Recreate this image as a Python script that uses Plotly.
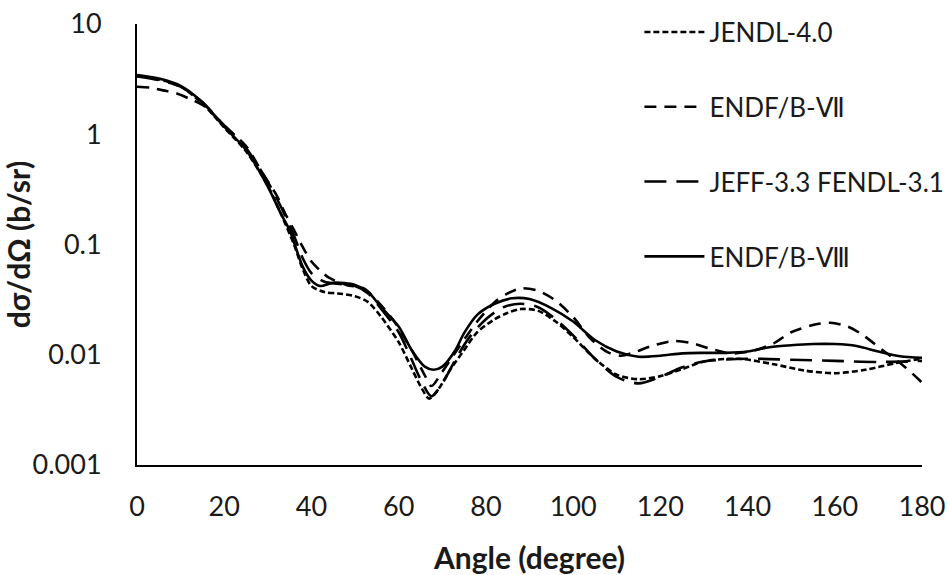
import plotly.graph_objects as go

# ---- data ----
names = ["JENDL-4.0", "ENDF/B-Ⅶ", "JEFF-3.3 FENDL-3.1", "ENDF/B-Ⅷ"]

jendl_ang = [0, 5, 10, 15, 20, 25, 30, 33, 36, 38, 40, 43, 46, 50, 53, 56, 60, 63, 65, 67, 69, 72, 75, 78, 82, 85, 88, 92, 96, 100, 105, 110, 115, 120, 125, 130, 138, 146, 153, 160, 167, 174, 180]
jendl_val = [3.4, 3.15, 2.7, 1.9, 1.15, 0.7, 0.34, 0.19, 0.1, 0.06, 0.042, 0.037, 0.036, 0.034, 0.03, 0.022, 0.013, 0.0075, 0.0052, 0.004, 0.0048, 0.0075, 0.011, 0.016, 0.021, 0.024, 0.026, 0.025, 0.02, 0.0145, 0.0092, 0.0066, 0.006, 0.0064, 0.0074, 0.0087, 0.0092, 0.0082, 0.0072, 0.0068, 0.0073, 0.0084, 0.0092]

endf7_ang = [0, 3, 6, 9, 12, 15, 18, 20, 25, 29, 32, 34, 36, 38, 40, 42, 44, 48, 52, 55, 59, 63, 66, 67.5, 70, 74, 78, 82, 85, 88, 92, 96, 100, 104, 108, 111, 114, 118, 123, 127, 131, 136, 141, 146, 150, 156, 159, 163, 166, 171, 176, 180]
endf7_val = [2.7, 2.65, 2.5, 2.35, 2.1, 1.85, 1.45, 1.2, 0.78, 0.43, 0.28, 0.19, 0.135, 0.095, 0.07, 0.058, 0.05, 0.043, 0.04, 0.031, 0.02, 0.011, 0.0065, 0.0052, 0.007, 0.012, 0.02, 0.03, 0.036, 0.040, 0.038, 0.031, 0.022, 0.014, 0.0105, 0.0098, 0.0105, 0.012, 0.0133, 0.0128, 0.0115, 0.0103, 0.0108, 0.0127, 0.016, 0.019, 0.0195, 0.018, 0.0155, 0.011, 0.0078, 0.0056]

jeff_ang = [0, 5, 10, 15, 20, 25, 30, 33, 36, 38, 40, 43, 46, 50, 53, 56, 60, 63, 65, 67.5, 70, 73, 76, 80, 84, 88, 92, 96, 100, 105, 110, 115, 120, 125, 130, 140, 150, 160, 170, 180]
jeff_val = [3.35, 3.1, 2.7, 1.95, 1.2, 0.75, 0.37, 0.22, 0.12, 0.075, 0.055, 0.046, 0.044, 0.042, 0.036, 0.026, 0.016, 0.009, 0.006, 0.0042, 0.0055, 0.009, 0.014, 0.021, 0.027, 0.029, 0.027, 0.021, 0.015, 0.0092, 0.0063, 0.0055, 0.0063, 0.0077, 0.0087, 0.0092, 0.009, 0.0088, 0.0086, 0.0088]

endf8_ang = [0, 5, 10, 15, 20, 25, 30, 33, 35, 38, 40, 42, 45, 50, 53, 56, 60, 63, 66, 68, 70, 73, 75, 78, 82, 86, 90, 95, 100, 105, 110, 115, 120, 125, 130, 135, 140, 145, 150, 155, 160, 165, 170, 175, 180]
endf8_val = [3.45, 3.2, 2.75, 1.95, 1.17, 0.72, 0.335, 0.19, 0.135, 0.063, 0.047, 0.042, 0.045, 0.043, 0.037, 0.027, 0.018, 0.011, 0.0078, 0.0073, 0.0078, 0.011, 0.0157, 0.023, 0.029, 0.0325, 0.032, 0.0265, 0.020, 0.0136, 0.0107, 0.0096, 0.0098, 0.0103, 0.0104, 0.0104, 0.0107, 0.0117, 0.0122, 0.0125, 0.0125, 0.012, 0.0107, 0.0097, 0.0094]

y_tickvals = [0.001, 0.01, 0.1, 1, 10]
y_ticktext = ["0.001", "0.01", "0.1", "1", "10"]
x_tickvals = [0, 20, 40, 60, 80, 100, 120, 140, 160, 180]

series = [
    (names[0], jendl_ang, jendl_val, "6px,3px"),
    (names[1], endf7_ang, endf7_val, "12px,8px"),
    (names[2], jeff_ang, jeff_val, "22px,10px"),
    (names[3], endf8_ang, endf8_val, "solid"),
]

FONT = "Lato, 'DejaVu Sans', sans-serif"

fig = go.Figure()
for i, (nm, xs, ys, dash) in enumerate(series):
    fig.add_trace(go.Scatter(
        x=xs, y=ys, name=nm, mode="lines", legendgroup=f"g{i}",
        line=dict(color="black", width=2.6, dash=dash, shape="spline", smoothing=0.8),
    ))

fig.update_layout(
    width=948, height=575,
    margin=dict(l=137, r=26, t=24, b=110, autoexpand=False),
    paper_bgcolor="white", plot_bgcolor="white",
    font=dict(family=FONT, color="#1a1a1a", size=27),
    showlegend=True,
    legend=dict(
        x=0.64, y=1.035, xanchor="left", yanchor="top",
        font=dict(size=26, family=FONT, color="#1a1a1a"),
        tracegroupgap=38, bgcolor="rgba(0,0,0,0)",
        itemwidth=60,
    ),
    xaxis=dict(
        range=[0, 180], tickvals=x_tickvals, showgrid=False, zeroline=False,
        showline=True, linecolor="black", linewidth=2, ticks="",
        ticklabelstandoff=17, tickfont=dict(size=27), automargin=False,
        title=dict(text="<b>Angle (degree)</b>", font=dict(size=30), standoff=28),
    ),
    yaxis=dict(
        type="log", range=[-3, 1], tickvals=y_tickvals, ticktext=y_ticktext,
        showgrid=False, zeroline=False, showline=True, linecolor="black",
        linewidth=2, ticks="", ticklabelstandoff=28, tickfont=dict(size=27),
        automargin=False,
        title=dict(text="<b>dσ/dΩ (b/sr)</b>", font=dict(size=30), standoff=6),
    ),
)

fig.write_html("out.html")
